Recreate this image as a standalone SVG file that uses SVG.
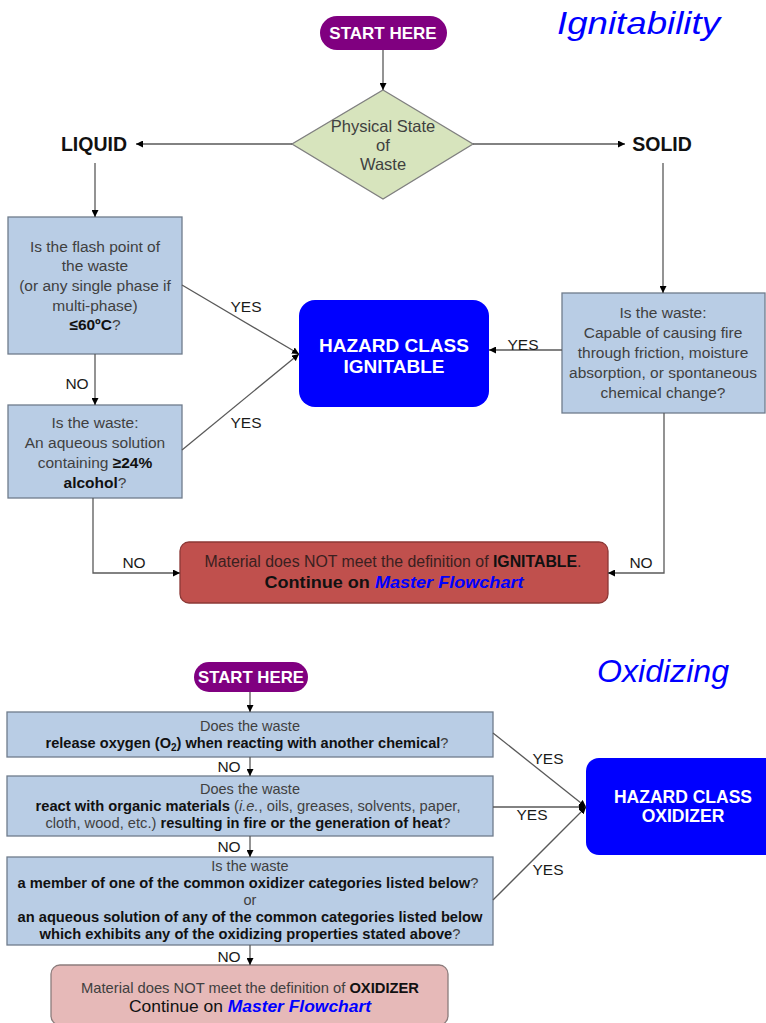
<svg xmlns="http://www.w3.org/2000/svg" width="766" height="1023" viewBox="0 0 766 1023">
  <style>
    text { font-family: "Liberation Sans", Arial, sans-serif; }
    .q { fill: #b9cde5; stroke: #6f7c8c; stroke-width: 1.3; }
    .start { fill: #800080; }
    .startT { fill: #fff; font-weight: bold; font-size: 17px; text-anchor: middle; }
    .haz { fill: #0000ff; }
    .hazT { fill: #fff; font-weight: bold; text-anchor: middle; }
    .title { fill: #0000ff; font-style: italic; font-size: 32px; }
    .reg { fill: #404040; font-size: 15.5px; text-anchor: middle; }
    .regS { fill: #404040; font-size: 14.5px; text-anchor: middle; }
    .b { font-weight: bold; fill: #111; }
    .lab { fill: #1a1a1a; font-size: 15.5px; text-anchor: middle; }
    .state { fill: #111; font-weight: bold; font-size: 19.5px; text-anchor: middle; }
    .link { fill: #0000ff; font-style: italic; font-weight: bold; }
    .c { fill: none; stroke: #595959; stroke-width: 1.3; }
  </style>
  <defs>
    <marker id="ah" markerWidth="7" markerHeight="7" refX="7" refY="3.5" orient="auto" markerUnits="userSpaceOnUse">
      <path d="M0,0 L7,3.5 L0,7 z" fill="#000"/>
    </marker>
  </defs>

  <!-- ===== Ignitability ===== -->
  <text id="title-ign" class="title" x="557" y="34" textLength="163" lengthAdjust="spacingAndGlyphs">Ignitability</text>

  <g id="start-ign">
    <rect class="start" x="320" y="16" width="127" height="34" rx="17"/>
    <text class="startT" x="383" y="39">START HERE</text>
  </g>

  <g id="state">
    <polygon points="383,90 473,144 383,199 292,144" fill="#d7e4bd" stroke="#7f7f7f" stroke-width="1.3"/>
    <text class="reg" style="font-size:16.5px" x="383" y="132">Physical State</text>
    <text class="reg" style="font-size:16.5px" x="383" y="151">of</text>
    <text class="reg" style="font-size:16.5px" x="383" y="170">Waste</text>
  </g>

  <g id="liquid"><text class="state" x="94" y="151">LIQUID</text></g>
  <g id="solid"><text class="state" x="662" y="151">SOLID</text></g>

  <g id="flash">
    <rect class="q" x="8" y="217" width="174" height="137"/>
    <text class="reg" x="95" y="252">Is the flash point of</text>
    <text class="reg" x="95" y="271">the waste</text>
    <text class="reg" x="95" y="291">(or any single phase if</text>
    <text class="reg" x="95" y="311">multi-phase)</text>
    <text class="reg" x="95" y="330"><tspan class="b">≤60ºC</tspan>?</text>
  </g>

  <g id="alcohol">
    <rect class="q" x="8" y="405" width="174" height="93"/>
    <text class="reg" x="95" y="428">Is the waste:</text>
    <text class="reg" x="95" y="448">An aqueous solution</text>
    <text class="reg" x="95" y="468">containing <tspan class="b">≥24%</tspan></text>
    <text class="reg" x="95" y="488"><tspan class="b">alcohol</tspan>?</text>
  </g>

  <g id="solid-q">
    <rect class="q" x="562" y="293" width="203" height="120"/>
    <text class="reg" x="663" y="318">Is the waste:</text>
    <text class="reg" x="663" y="338">Capable of causing fire</text>
    <text class="reg" x="663" y="358">through friction, moisture</text>
    <text class="reg" x="663" y="378">absorption, or spontaneous</text>
    <text class="reg" x="663" y="398">chemical change?</text>
  </g>

  <g id="haz-ign">
    <rect class="haz" x="299" y="300" width="190" height="107" rx="16"/>
    <text class="hazT" style="font-size:19px" x="394" y="352">HAZARD CLASS</text>
    <text class="hazT" style="font-size:19px" x="394" y="373">IGNITABLE</text>
  </g>

  <g id="not-ign">
    <rect x="180" y="542" width="428" height="61" rx="9" fill="#c0504d" stroke="#8c3836" stroke-width="1.3"/>
    <text x="393" y="567" font-size="16" text-anchor="middle" fill="#3a2020" textLength="377" lengthAdjust="spacingAndGlyphs">Material does NOT meet the definition of <tspan class="b">IGNITABLE</tspan>.</text>
    <text x="394" y="588" font-size="17" text-anchor="middle" class="b" textLength="259" lengthAdjust="spacingAndGlyphs">Continue on <tspan class="link">Master Flowchart</tspan></text>
  </g>

  <!-- ===== Oxidizing ===== -->
  <text id="title-ox" class="title" x="597" y="682" textLength="132" lengthAdjust="spacingAndGlyphs">Oxidizing</text>

  <g id="start-ox">
    <rect class="start" x="194" y="662" width="114" height="30" rx="15"/>
    <text class="startT" x="251" y="683" textLength="106" lengthAdjust="spacingAndGlyphs">START HERE</text>
  </g>

  <g id="oxygen">
    <rect class="q" x="7" y="712" width="486" height="45"/>
    <text class="regS" x="250" y="731">Does the waste</text>
    <text class="regS" x="247" y="748" textLength="403" lengthAdjust="spacingAndGlyphs"><tspan class="b">release oxygen (O<tspan font-size="10" dy="3">2</tspan><tspan dy="-3">)  when reacting with another chemical</tspan></tspan>?</text>
  </g>

  <g id="organic">
    <rect class="q" x="7" y="776" width="486" height="60"/>
    <text class="regS" x="250" y="794">Does the waste</text>
    <text class="regS" x="248" y="811" textLength="425" lengthAdjust="spacingAndGlyphs"><tspan class="b">react with organic materials</tspan> (<tspan font-style="italic">i.e.</tspan>, oils, greases, solvents, paper,</text>
    <text class="regS" x="248" y="828" textLength="405" lengthAdjust="spacingAndGlyphs">cloth, wood, etc.) <tspan class="b">resulting in fire or the generation of heat</tspan>?</text>
  </g>

  <g id="category">
    <rect class="q" x="7" y="857" width="486" height="88"/>
    <text class="regS" x="250" y="871">Is the waste</text>
    <text class="regS" x="248" y="888" textLength="461" lengthAdjust="spacingAndGlyphs"><tspan class="b">a member of one of the common oxidizer categories listed below</tspan>?</text>
    <text class="regS" x="250" y="905">or</text>
    <text class="regS" x="250" y="922" textLength="465" lengthAdjust="spacingAndGlyphs"><tspan class="b">an aqueous solution of any of the common categories listed below</tspan></text>
    <text class="regS" x="250" y="939" textLength="421" lengthAdjust="spacingAndGlyphs"><tspan class="b">which exhibits any of the oxidizing properties stated above</tspan>?</text>
  </g>

  <g id="haz-ox">
    <rect class="haz" x="586" y="758" width="200" height="97" rx="13"/>
    <text class="hazT" style="font-size:17.5px" x="683" y="803">HAZARD CLASS</text>
    <text class="hazT" style="font-size:17.5px" x="683" y="822">OXIDIZER</text>
  </g>

  <g id="not-ox">
    <rect x="51" y="965" width="397" height="60" rx="9" fill="#e6b9b8" stroke="#8c7c7c" stroke-width="1.3"/>
    <text x="250" y="993" font-size="15" text-anchor="middle" fill="#404040" textLength="338" lengthAdjust="spacingAndGlyphs">Material does NOT meet the definition of <tspan class="b">OXIDIZER</tspan></text>
    <text x="250" y="1012" font-size="16" text-anchor="middle" fill="#111" textLength="242" lengthAdjust="spacingAndGlyphs">Continue on <tspan class="link">Master Flowchart</tspan></text>
  </g>

  <!-- connectors -->
  <g id="connectors">
    <path class="c" d="M383,50 V90" marker-end="url(#ah)"/>
    <path class="c" d="M292,144 H136" marker-end="url(#ah)"/>
    <path class="c" d="M473,144 H625" marker-end="url(#ah)"/>
    <path class="c" d="M95,163 V217" marker-end="url(#ah)"/>
    <path class="c" d="M663,163 V293" marker-end="url(#ah)"/>
    <path class="c" d="M182,285 L299,354" marker-end="url(#ah)"/>
    <path class="c" d="M182,450 L299,354" marker-end="url(#ah)"/>
    <path class="c" d="M562,350 H489" marker-end="url(#ah)"/>
    <path class="c" d="M95,354 V405" marker-end="url(#ah)"/>
    <path class="c" d="M93,498 V573 H180" marker-end="url(#ah)"/>
    <path class="c" d="M664,413 V573 H608" marker-end="url(#ah)"/>

    <path class="c" d="M250,692 V712" marker-end="url(#ah)"/>
    <path class="c" d="M250,757 V776" marker-end="url(#ah)"/>
    <path class="c" d="M250,836 V857" marker-end="url(#ah)"/>
    <path class="c" d="M250,945 V965" marker-end="url(#ah)"/>
    <path class="c" d="M493,733 L586,807" marker-end="url(#ah)"/>
    <path class="c" d="M493,807 H586" marker-end="url(#ah)"/>
    <path class="c" d="M493,900 L586,807" marker-end="url(#ah)"/>

    <text class="lab" x="246" y="312">YES</text>
    <text class="lab" x="246" y="428">YES</text>
    <text class="lab" x="523" y="350">YES</text>
    <text class="lab" x="77" y="389">NO</text>
    <text class="lab" x="134" y="568">NO</text>
    <text class="lab" x="641" y="568">NO</text>
    <text class="lab" x="548" y="764">YES</text>
    <text class="lab" x="532" y="820">YES</text>
    <text class="lab" x="548" y="875">YES</text>
    <text class="lab" x="229" y="772">NO</text>
    <text class="lab" x="229" y="852">NO</text>
    <text class="lab" x="229" y="962">NO</text>
  </g>
</svg>
